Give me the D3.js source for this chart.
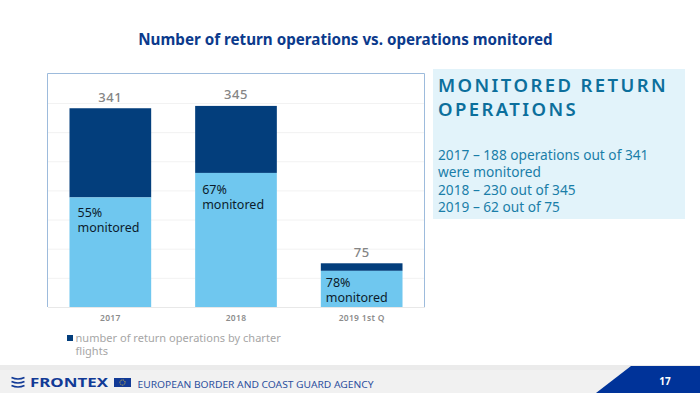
<!DOCTYPE html>
<html>
<head>
<meta charset="utf-8">
<script src="https://cdn.jsdelivr.net/npm/d3@7"></script>
<style>
    html, body { margin: 0; padding: 0; background: #fff; overflow: hidden; }
    text { font-family: "Noto Sans", sans-serif; }
</style>
</head>
<body>
<div id="chart"></div>
<script>
// Chart data
const periods = ["2017", "2018", "2019 1st Q"];
const totalOperations = [341, 345, 75];
const monitoredOperations = [188, 230, 62];
const monitoredLabels = ["55%", "67%", "78%"];
const yTicks = [0, 50, 100, 150, 200, 250, 300, 350];
const panelLines = [
    "2017 \u2013 188 operations out of 341",
    "were monitored",
    "2018 \u2013 230 out of 345",
    "2019 \u2013 62 out of 75"
];

const width = 700;
const height = 393;

const svg = d3.select("#chart").append("svg")
    .attr("width", width)
    .attr("height", height)
    .style("display", "block");

// Title
svg.append("text")
    .attr("x", 345.5)
    .attr("y", 45)
    .attr("text-anchor", "middle")
    .attr("font-size", 15.2)
    .attr("font-weight", 700)
    .attr("fill", "#0b3a8c")
    .text("Number of return operations vs. operations monitored");

// Chart frame, only top and sides show
svg.append("path")
    .attr("d", "M47.5,307V73.5H424.5V307")
    .attr("fill", "none")
    .attr("stroke", "#9dbbdc")
    .attr("stroke-width", 1);

const xScale = d3.scaleBand()
    .domain(periods)
    .range([47.5, 424.5])
    .paddingInner(0.35)
    .paddingOuter(0.175);

const yScale = d3.scaleLinear()
    .domain([0, 350])
    .range([307, 103]);

// Grid lines
svg.append("g")
    .attr("transform", "translate(48, 0)")
    .call(d3.axisLeft(yScale).tickValues(yTicks).tickSize(-376).tickFormat(""))
    .call(g => g.select(".domain").remove())
    .call(g => g.selectAll("line").attr("stroke", "#f2f2f2").attr("stroke-width", 1));

// Stacked bars
const bars = svg.append("g")
    .selectAll("g")
    .data(periods)
    .join("g");

bars.append("rect")
    .attr("x", d => xScale(d))
    .attr("width", xScale.bandwidth())
    .attr("y", (d, i) => yScale(totalOperations[i]))
    .attr("height", (d, i) => yScale(monitoredOperations[i]) - yScale(totalOperations[i]))
    .attr("fill", "#033e7c");

bars.append("rect")
    .attr("x", d => xScale(d))
    .attr("width", xScale.bandwidth())
    .attr("y", (d, i) => yScale(monitoredOperations[i]))
    .attr("height", (d, i) => yScale(0) - yScale(monitoredOperations[i]))
    .attr("fill", "#6fc7ef");

// Total labels
bars.append("text")
    .attr("x", d => xScale(d) + xScale.bandwidth() / 2)
    .attr("y", (d, i) => yScale(totalOperations[i]) - 6.5)
    .attr("text-anchor", "middle")
    .attr("font-size", 13)
    .attr("font-weight", 500)
    .attr("letter-spacing", 0.6)
    .attr("fill", "#858585")
    .text((d, i) => totalOperations[i]);

// Monitored share, placed by hand like the slide annotations
const labelOffsets = [[8, 19.5], [7, 21], [5, 16]];
bars.each(function (d, i) {
    const label = d3.select(this).append("text")
        .attr("font-size", 12.5)
        .attr("fill", "#0c1c2c");
    const lx = xScale(d) + labelOffsets[i][0];
    const ly = yScale(monitoredOperations[i]) + labelOffsets[i][1];
    label.append("tspan").attr("x", lx).attr("y", ly).text(monitoredLabels[i]);
    label.append("tspan").attr("x", lx).attr("y", ly + 15.3).text("monitored");
});

// X axis
svg.append("g")
    .attr("transform", "translate(0, 307)")
    .call(d3.axisBottom(xScale).tickSize(0).tickPadding(8))
    .call(g => g.select(".domain").attr("stroke", "#e8e8e8"))
    .call(g => g.selectAll("text")
        .attr("font-family", "'Noto Sans', sans-serif")
        .attr("font-size", 8.5)
        .attr("font-weight", 600)
        .attr("letter-spacing", 0.3)
        .attr("fill", "#8c8c8c"));

// Legend
svg.append("rect")
    .attr("x", 67)
    .attr("y", 335)
    .attr("width", 6)
    .attr("height", 6)
    .attr("fill", "#033e7c");

const legendText = svg.append("text")
    .attr("font-size", 11)
    .attr("letter-spacing", 0.03)
    .attr("fill", "#a6a6a6");
legendText.append("tspan").attr("x", 75.5).attr("y", 342).text("number of return operations by charter");
legendText.append("tspan").attr("x", 75.5).attr("y", 355).text("flights");

// Text panel on the right
svg.append("rect")
    .attr("x", 433)
    .attr("y", 69)
    .attr("width", 252)
    .attr("height", 150)
    .attr("fill", "#e2f3fa");

const panelTitle = svg.append("text")
    .attr("font-size", 18.5)
    .attr("font-weight", 600)
    .attr("letter-spacing", 2.4)
    .attr("fill", "#0c6f9c");
panelTitle.append("tspan").attr("x", 438).attr("y", 92).text("MONITORED RETURN");
panelTitle.append("tspan").attr("x", 438).attr("y", 116).text("OPERATIONS");

svg.append("g")
    .selectAll("text")
    .data(panelLines)
    .join("text")
    .attr("x", 438)
    .attr("y", (d, i) => 160 + i * 17.3)
    .attr("font-size", 13.7)
    .attr("fill", "#1a7ea8")
    .text(d => d);

// Footer band
svg.append("rect")
    .attr("x", 0)
    .attr("y", 365)
    .attr("width", width)
    .attr("height", 28)
    .attr("fill", "#f1f1f1");

svg.append("rect")
    .attr("x", 0)
    .attr("y", 365)
    .attr("width", width)
    .attr("height", 5)
    .attr("fill", "#ebebeb");

svg.append("path")
    .attr("d", "M631,366H700V393H596Z")
    .attr("fill", "#003399");

svg.append("text")
    .attr("x", 665)
    .attr("y", 385)
    .attr("text-anchor", "middle")
    .attr("font-size", 10)
    .attr("font-weight", 700)
    .attr("fill", "#fff")
    .text("17");

// Footer logo
const waves = svg.append("g")
    .attr("fill", "none")
    .attr("stroke", "#123a96")
    .attr("stroke-width", 1.6);
[378.5, 382.5, 386.5].forEach(y => {
    waves.append("path").attr("d", `M11.5,${y - 1}Q18,${y + 2} 24.5,${y - 1}`);
});

svg.append("text")
    .attr("x", 30)
    .attr("y", 387)
    .attr("font-family", "'DejaVu Sans', sans-serif")
    .attr("font-size", 12.5)
    .attr("font-weight", 700)
    .attr("textLength", 78)
    .attr("lengthAdjust", "spacingAndGlyphs")
    .attr("fill", "#123a96")
    .text("FRONTEX");

svg.append("rect")
    .attr("x", 114)
    .attr("y", 378)
    .attr("width", 17)
    .attr("height", 9)
    .attr("fill", "#123a96");

svg.append("circle")
    .attr("cx", 122.5)
    .attr("cy", 382.5)
    .attr("r", 2.6)
    .attr("fill", "none")
    .attr("stroke", "#e8c840")
    .attr("stroke-width", 0.9)
    .attr("stroke-dasharray", "1 0.8");

svg.append("text")
    .attr("x", 137.5)
    .attr("y", 387.5)
    .attr("font-family", "'DejaVu Sans', sans-serif")
    .attr("font-size", 8.2)
    .attr("textLength", 236)
    .attr("lengthAdjust", "spacingAndGlyphs")
    .attr("fill", "#2c4f9e")
    .text("EUROPEAN BORDER AND COAST GUARD AGENCY");
</script>
</body>
</html>
